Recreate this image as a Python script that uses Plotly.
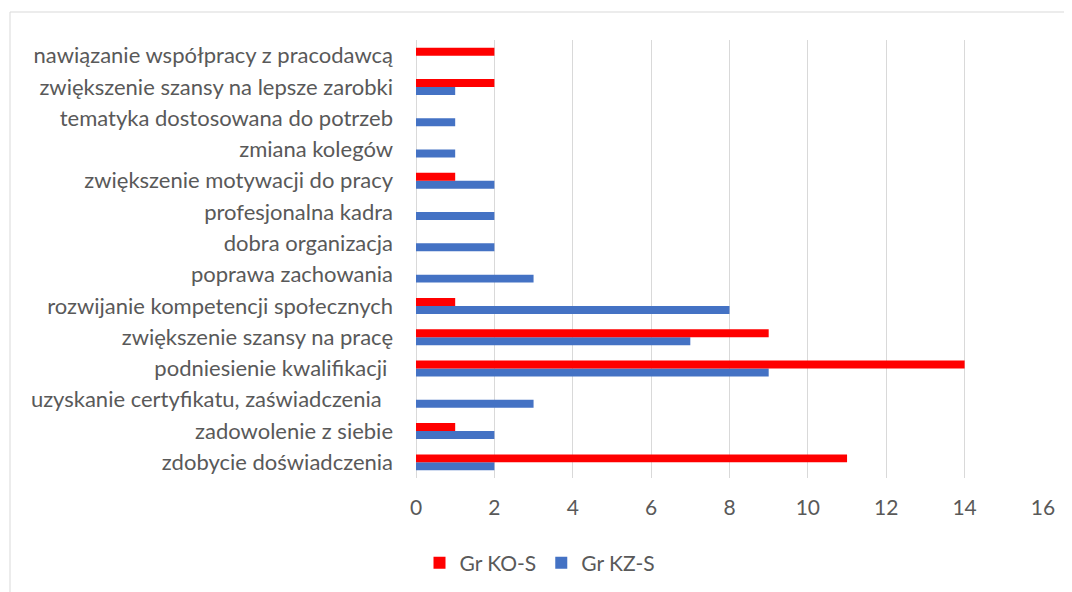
import plotly.graph_objects as go

categories = [
    "zdobycie doświadczenia",
    "zadowolenie z siebie",
    "uzyskanie certyfikatu, zaświadczenia\u00a0\u00a0",
    "podniesienie kwalifikacji\u00a0",
    "zwiększenie szansy na pracę",
    "rozwijanie kompetencji społecznych",
    "poprawa zachowania",
    "dobra organizacja",
    "profesjonalna kadra",
    "zwiększenie motywacji do pracy",
    "zmiana kolegów",
    "tematyka dostosowana do potrzeb",
    "zwiększenie szansy na lepsze zarobki",
    "nawiązanie współpracy z pracodawcą",
]
gr_ko_s = [11, 1, 0, 14, 9, 1, 0, 0, 0, 1, 0, 0, 2, 2]
gr_kz_s = [2, 2, 3, 9, 7, 8, 3, 2, 2, 2, 1, 1, 1, 0]
x_ticks = [0, 2, 4, 6, 8, 10, 12, 14, 16]

FONT = "Lato"
TXT = "#595959"

W, H = 1064, 584
L, R, T, B = 408, 29, 32, 114
PW = W - L - R
PH = H - T - B

fig = go.Figure()
fig.add_trace(go.Bar(
    y=categories, x=gr_kz_s, name="Gr KZ-S", orientation="h",
    marker=dict(color="#4472C4", line=dict(width=0)),
))
fig.add_trace(go.Bar(
    y=categories, x=gr_ko_s, name="Gr KO-S", orientation="h",
    marker=dict(color="#FF0000", line=dict(width=0)),
))

fig.update_layout(
    width=W, height=H,
    margin=dict(l=L, r=R, t=T, b=B),
    paper_bgcolor="white", plot_bgcolor="white",
    barmode="group", bargap=0.49, bargroupgap=0,
    font=dict(family=FONT, color=TXT, size=21),
    showlegend=True,
    legend=dict(
        orientation="h", traceorder="reversed",
        x=0.5, xref="container", xanchor="center",
        y=29 / H, yref="container", yanchor="middle",
        font=dict(family=FONT, size=21, color=TXT),
        itemwidth=30, itemsizing="constant",
    ),
    xaxis=dict(
        range=[0, 16], tickvals=x_ticks, ticktext=[str(v) for v in x_ticks],
        showgrid=True, gridcolor="#d9d9d9", gridwidth=1,
        zeroline=True, zerolinecolor="#d9d9d9", zerolinewidth=1,
        showline=False, ticks="", ticklabelstandoff=15,
        tickfont=dict(family=FONT, size=21, color=TXT),
        fixedrange=True,
    ),
    yaxis=dict(
        type="category", categoryorder="array", categoryarray=categories,
        showgrid=False, showline=False, zeroline=False, ticks="",
        ticklabelstandoff=22,
        tickfont=dict(family=FONT, size=22, color=TXT),
        automargin=False, fixedrange=True,
    ),
    shapes=[
        dict(type="line", xref="paper", yref="paper",
             x0=(2 - L) / PW, x1=1.2,
             y0=(H - B - 4) / PH, y1=(H - B - 4) / PH,
             line=dict(color="#d9d9d9", width=1)),
        dict(type="line", xref="paper", yref="paper",
             x0=(2 - L) / PW, x1=(2 - L) / PW,
             y0=-1, y1=(H - B - 4) / PH,
             line=dict(color="#d9d9d9", width=1)),
    ],
)

fig.write_html("out.html")
